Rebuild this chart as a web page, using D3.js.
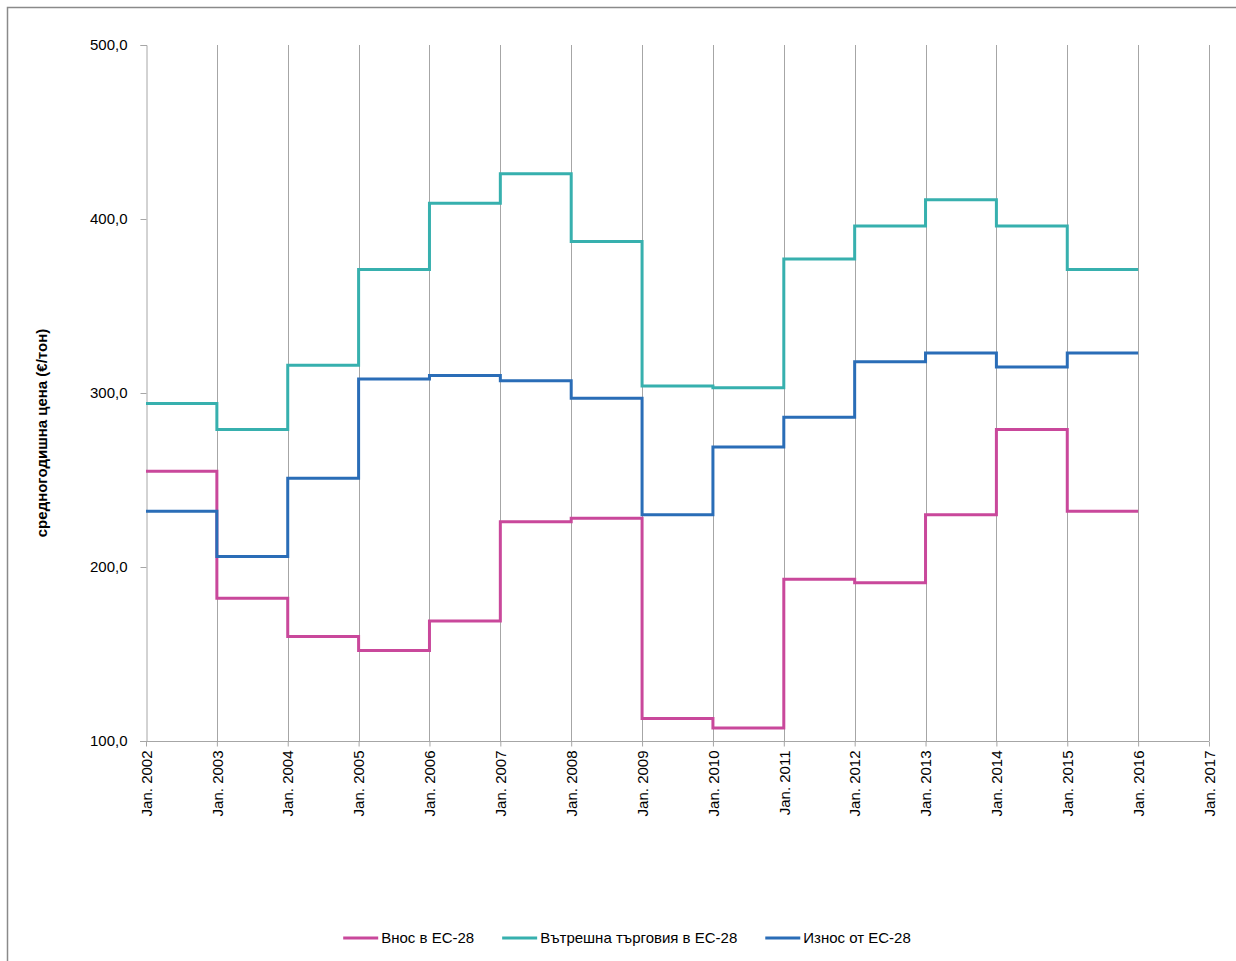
<!DOCTYPE html>
<html>
<head>
<meta charset="utf-8">
<script src="https://cdn.jsdelivr.net/npm/d3@7"></script>
<style>
  html, body { margin: 0; padding: 0; background: #ffffff; }
  svg { display: block; }
  text { font-family: "Liberation Sans", Arial, sans-serif; fill: #000; }
</style>
</head>
<body>
<svg id="chart" width="1236" height="961"></svg>
<script>
// Year boundaries of the step series (each value holds for one calendar year)
const years = [2002, 2003, 2004, 2005, 2006, 2007, 2008, 2009, 2010, 2011, 2012, 2013, 2014, 2015];
const lastYearEnd = 2016;
const axisYears = d3.range(2002, 2018);
const yTicks = [100, 200, 300, 400, 500];

// Average annual price, €/t
const importEU = [255, 182, 160, 152, 169, 226, 228, 113, 107.5, 193, 191, 230, 279, 232];
const intraEU = [294, 279, 316, 371, 409, 426, 387, 304, 303, 377, 396, 411, 396, 371];
const exportEU = [232, 206, 251, 308, 310, 307, 297, 230, 269, 286, 318, 323, 315, 323];

const seriesNames = ["Внос в ЕС-28", "Вътрешна търговия в ЕС-28", "Износ от ЕС-28"];
const seriesColors = ["#C9489B", "#37B0AE", "#2A6DB7"];
const seriesValues = [importEU, intraEU, exportEU];

const svg = d3.select("#chart");
const W = 1236, H = 961;

// Outer frame
svg.append("rect")
  .attr("x", 7.5).attr("y", 7.5)
  .attr("width", W).attr("height", H)
  .attr("fill", "none").attr("stroke", "#8a8a8a").attr("stroke-width", 1.5);

const x = d3.scaleLinear().domain([2002, 2017]).range([146, 1209]);
const y = d3.scaleLinear().domain([100, 500]).range([741, 45]);

// Vertical gridlines at each January
svg.append("g")
  .selectAll("line")
  .data(axisYears.slice(1))
  .join("line")
  .attr("x1", d => Math.round(x(d)) + 0.5).attr("x2", d => Math.round(x(d)) + 0.5)
  .attr("y1", y(500)).attr("y2", y(100))
  .attr("stroke", "#a6a6a6").attr("stroke-width", 1);

// Y axis
const yAxis = svg.append("g")
  .attr("transform", `translate(${Math.round(x(2002)) + 0.5},0)`)
  .call(d3.axisLeft(y).tickValues(yTicks).tickSize(6).tickPadding(13)
    .tickFormat(d => d3.format(".1f")(d).replace(".", ",")));
yAxis.select(".domain").attr("stroke", "#a6a6a6");
yAxis.selectAll(".tick line").attr("stroke", "#a6a6a6");
yAxis.selectAll("text").attr("font-size", 15).attr("fill", "#000")
  .style("font-family", '"Liberation Sans", Arial, sans-serif');

// X axis
const xAxis = svg.append("g")
  .attr("transform", `translate(0,${Math.round(y(100)) + 0.5})`)
  .call(d3.axisBottom(x).tickValues(axisYears).tickSize(5).tickSizeOuter(0)
    .tickFormat(d => "Jan. " + d));
xAxis.select(".domain").attr("stroke", "#a6a6a6").attr("d", `M${x(2002) - 6},0H${x(2017)}`);
xAxis.selectAll(".tick line").attr("stroke", "#a6a6a6");
xAxis.selectAll("text")
  .attr("font-size", 15).attr("fill", "#000")
  .style("font-family", '"Liberation Sans", Arial, sans-serif')
  .attr("text-anchor", "end")
  .attr("transform", "rotate(-90)")
  .attr("x", -9).attr("y", 0).attr("dy", "0.35em");

// Y axis title
svg.append("text")
  .attr("transform", `translate(47,${(y(100) + y(500)) / 2 + 40}) rotate(-90)`)
  .attr("text-anchor", "middle")
  .attr("font-size", 15).attr("font-weight", "bold")
  .text("средногодишна цена (€/тон)");

// Step lines
const line = d3.line()
  .x(d => x(d.year)).y(d => y(d.value))
  .curve(d3.curveStepAfter);

seriesValues.forEach((vals, i) => {
  const pts = years.map((yr, j) => ({ year: yr, value: vals[j] }));
  pts.push({ year: lastYearEnd, value: vals[vals.length - 1] });
  svg.append("path")
    .datum(pts)
    .attr("d", line)
    .attr("fill", "none")
    .attr("stroke", seriesColors[i])
    .attr("stroke-width", 3)
    .attr("stroke-linejoin", "miter");
});

// Legend
const legend = svg.append("g").attr("class", "legend");
const lineLen = 35, lineGap = 3, itemGap = 28, legendY = 938;
const items = seriesNames.map((name, i) => {
  const g = legend.append("g");
  g.append("line")
    .attr("x1", 0).attr("x2", lineLen)
    .attr("y1", 0).attr("y2", 0)
    .attr("stroke", seriesColors[i]).attr("stroke-width", 3);
  const t = g.append("text")
    .attr("x", lineLen + lineGap).attr("y", 0).attr("dy", "0.35em")
    .attr("font-size", 15).text(name);
  return { g, w: lineLen + lineGap + t.node().getComputedTextLength() };
});
const total = d3.sum(items, d => d.w) + itemGap * (items.length - 1);
let cx = 627 - total / 2;
items.forEach(it => {
  it.g.attr("transform", `translate(${cx},${legendY})`);
  cx += it.w + itemGap;
});
</script>
</body>
</html>
